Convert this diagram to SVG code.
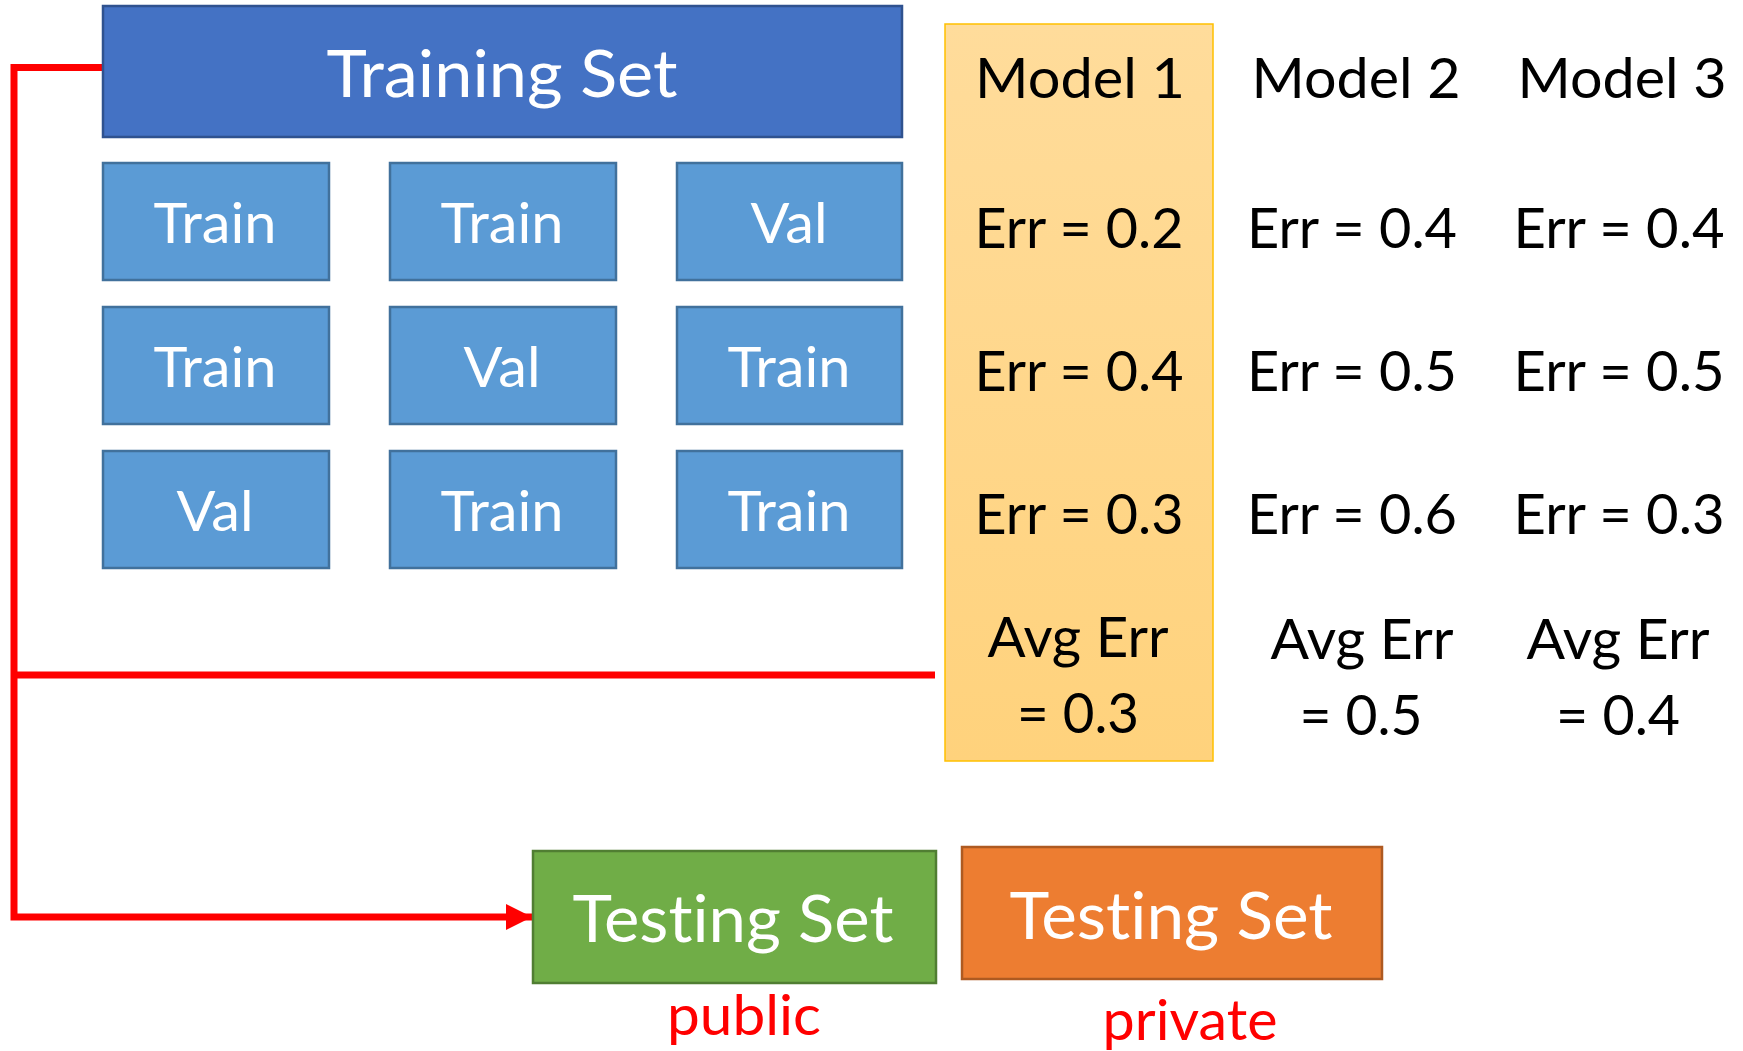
<svg xmlns="http://www.w3.org/2000/svg" width="1743" height="1051" viewBox="0 0 1743 1051">
<defs>
<linearGradient id="gold" x1="0" y1="0" x2="0" y2="1">
<stop offset="0" stop-color="#FFDC9B"/>
<stop offset="1" stop-color="#FFD27C"/>
</linearGradient>
<marker id="arrow" markerWidth="26" markerHeight="26" refX="26" refY="13" orient="auto" markerUnits="userSpaceOnUse">
<path d="M0,0 L26,13 L0,26 Z" fill="#FF0000"/>
</marker>
</defs>
<style>
text{font-family:Lato,"Open Sans","Liberation Sans",sans-serif;text-anchor:middle;font-variant-ligatures:none}
.w{fill:#FFFFFF}
.k{fill:#000000}
.r{fill:#FF0000}
.fold{fill:#5B9BD5;stroke:#41719C;stroke-width:2.5}
.big{font-size:65px}
.mid{font-size:56px}
.red{fill:none;stroke:#FF0000;stroke-width:7}
</style>
<rect width="1743" height="1051" fill="#FFFFFF"/>
<g id="connectors">
<polyline class="red" points="103,67.5 14,67.5 14,917 532,917" marker-end="url(#arrow)"/>
<line class="red" x1="14" y1="675" x2="935" y2="675"/>
</g>
<g id="training-set">
<rect x="103" y="6" width="799" height="131" fill="#4472C4" stroke="#2F528F" stroke-width="2.5"/>
<text class="w big" x="502" y="97" textLength="351" lengthAdjust="spacingAndGlyphs">Training Set</text>
</g>
<g id="fold-r1c1"><rect class="fold" x="103" y="163" width="226" height="117"/><text class="w mid" x="215" y="243" textLength="123" lengthAdjust="spacingAndGlyphs">Train</text></g>
<g id="fold-r1c2"><rect class="fold" x="390" y="163" width="226" height="117"/><text class="w mid" x="502" y="243" textLength="123" lengthAdjust="spacingAndGlyphs">Train</text></g>
<g id="fold-r1c3"><rect class="fold" x="677" y="163" width="225" height="117"/><text class="w mid" x="789" y="243" textLength="77" lengthAdjust="spacingAndGlyphs">Val</text></g>
<g id="fold-r2c1"><rect class="fold" x="103" y="307" width="226" height="117"/><text class="w mid" x="215" y="387" textLength="123" lengthAdjust="spacingAndGlyphs">Train</text></g>
<g id="fold-r2c2"><rect class="fold" x="390" y="307" width="226" height="117"/><text class="w mid" x="502" y="387" textLength="77" lengthAdjust="spacingAndGlyphs">Val</text></g>
<g id="fold-r2c3"><rect class="fold" x="677" y="307" width="225" height="117"/><text class="w mid" x="789" y="387" textLength="123" lengthAdjust="spacingAndGlyphs">Train</text></g>
<g id="fold-r3c1"><rect class="fold" x="103" y="451" width="226" height="117"/><text class="w mid" x="215" y="531" textLength="77" lengthAdjust="spacingAndGlyphs">Val</text></g>
<g id="fold-r3c2"><rect class="fold" x="390" y="451" width="226" height="117"/><text class="w mid" x="502" y="531" textLength="123" lengthAdjust="spacingAndGlyphs">Train</text></g>
<g id="fold-r3c3"><rect class="fold" x="677" y="451" width="225" height="117"/><text class="w mid" x="789" y="531" textLength="123" lengthAdjust="spacingAndGlyphs">Train</text></g>
<g id="model-1">
<rect x="945" y="24" width="268" height="737" fill="url(#gold)" stroke="#FFC000" stroke-width="1.5"/>
<text class="k mid" x="1080" y="98" textLength="210" lengthAdjust="spacingAndGlyphs">Model 1</text>
<text class="k mid" x="1079" y="248" textLength="209" lengthAdjust="spacingAndGlyphs">Err = 0.2</text>
<text class="k mid" x="1079" y="391" textLength="209" lengthAdjust="spacingAndGlyphs">Err = 0.4</text>
<text class="k mid" x="1079" y="534" textLength="209" lengthAdjust="spacingAndGlyphs">Err = 0.3</text>
<text class="k mid" x="1078" y="657" textLength="181" lengthAdjust="spacingAndGlyphs">Avg Err</text>
<text class="k mid" x="1078" y="733" textLength="122" lengthAdjust="spacingAndGlyphs">= 0.3</text>
</g>
<g id="model-2">
<text class="k mid" x="1356" y="98" textLength="209" lengthAdjust="spacingAndGlyphs">Model 2</text>
<text class="k mid" x="1352" y="248" textLength="210" lengthAdjust="spacingAndGlyphs">Err = 0.4</text>
<text class="k mid" x="1352" y="391" textLength="210" lengthAdjust="spacingAndGlyphs">Err = 0.5</text>
<text class="k mid" x="1352" y="534" textLength="210" lengthAdjust="spacingAndGlyphs">Err = 0.6</text>
<text class="k mid" x="1362" y="659" textLength="183" lengthAdjust="spacingAndGlyphs">Avg Err</text>
<text class="k mid" x="1361" y="735" textLength="123" lengthAdjust="spacingAndGlyphs">= 0.5</text>
</g>
<g id="model-3">
<text class="k mid" x="1622" y="98" textLength="209" lengthAdjust="spacingAndGlyphs">Model 3</text>
<text class="k mid" x="1619" y="248" textLength="211" lengthAdjust="spacingAndGlyphs">Err = 0.4</text>
<text class="k mid" x="1619" y="391" textLength="211" lengthAdjust="spacingAndGlyphs">Err = 0.5</text>
<text class="k mid" x="1619" y="534" textLength="211" lengthAdjust="spacingAndGlyphs">Err = 0.3</text>
<text class="k mid" x="1618" y="659" textLength="183" lengthAdjust="spacingAndGlyphs">Avg Err</text>
<text class="k mid" x="1618" y="735" textLength="124" lengthAdjust="spacingAndGlyphs">= 0.4</text>
</g>
<g id="testing-public">
<rect x="533" y="851" width="403" height="132" fill="#70AD47" stroke="#507E32" stroke-width="2.5"/>
<text class="w big" x="733" y="942" textLength="321" lengthAdjust="spacingAndGlyphs">Testing Set</text>
<text class="r mid" x="744" y="1035" textLength="154" lengthAdjust="spacingAndGlyphs">public</text>
</g>
<g id="testing-private">
<rect x="962" y="847" width="420" height="132" fill="#ED7D31" stroke="#AE5A21" stroke-width="2.5"/>
<text class="w big" x="1171" y="939" textLength="323" lengthAdjust="spacingAndGlyphs">Testing Set</text>
<text class="r mid" x="1190" y="1040" textLength="175" lengthAdjust="spacingAndGlyphs">private</text>
</g>
</svg>
